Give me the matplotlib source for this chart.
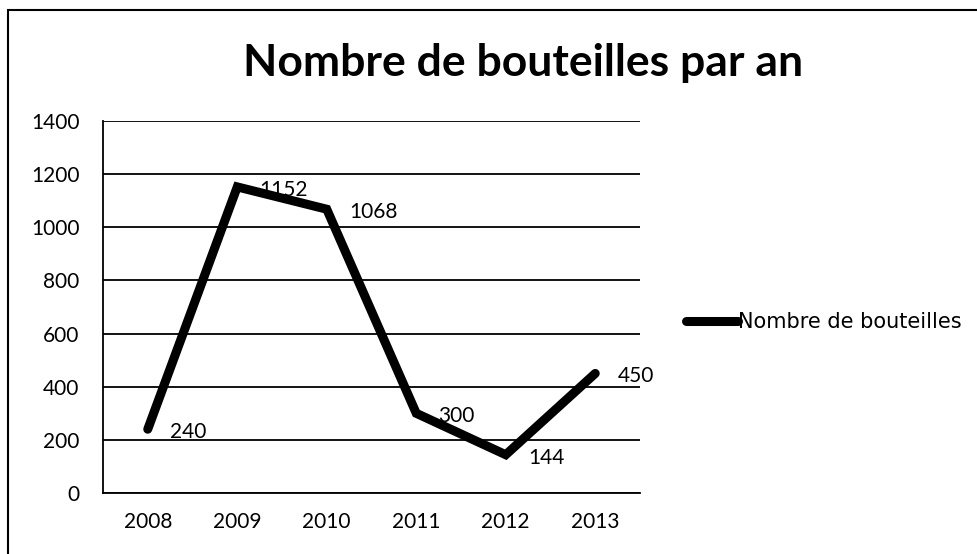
import matplotlib
matplotlib.use('Agg')
import matplotlib.pyplot as plt
from matplotlib.patches import Rectangle

# Données
annees = ['2008', '2009', '2010', '2011', '2012', '2013']
bouteilles = [240, 1152, 1068, 300, 144, 450]
graduations = [0, 200, 400, 600, 800, 1000, 1200, 1400]

plt.rcParams['font.family'] = ['Lato', 'DejaVu Sans']

fig = plt.figure(figsize=(9.77, 5.54), dpi=100)
ax = fig.add_axes([103 / 977, 1 - 493 / 554, (640 - 103) / 977, (493 - 121) / 554])

x = range(len(annees))
ax.plot(x, bouteilles, color='black', linewidth=6.5, solid_capstyle='round',
        solid_joinstyle='miter', label='Nombre de bouteilles', zorder=3)

for i, v in enumerate(bouteilles):
    ax.annotate(str(v), (i, v), xytext=(16, -2), textcoords='offset points',
                fontsize=15, va='center', ha='left', color='black')

ax.set_xlim(-0.5, len(annees) - 0.5)
ax.set_ylim(0, 1400)
ax.set_yticks(graduations)
ax.set_xticks(list(x))
ax.set_xticklabels(annees)
ax.tick_params(axis='both', length=0, labelsize=15, colors='black')
ax.tick_params(axis='y', pad=17)
ax.tick_params(axis='x', pad=14)
ax.grid(axis='y', color='black', linewidth=1.3)
ax.set_axisbelow(True)
for s in ['top', 'right']:
    ax.spines[s].set_visible(False)
for s in ['left', 'bottom']:
    ax.spines[s].set_linewidth(1.3)

fig.text(523 / 977, 1 - 63 / 554, 'Nombre de bouteilles par an', ha='center', va='center',
         fontsize=32, fontweight='bold')

leg = ax.legend(loc='center left', bbox_to_anchor=(1.05, 0.46), frameon=False,
                prop={'family': 'DejaVu Sans', 'size': 15},
                handlelength=2.5, handletextpad=0.0)

# Cadre du graphique
fig.patches.append(Rectangle((8 / 977, -0.05), 1.2, 1 - 10 / 554 + 0.05, transform=fig.transFigure,
                             fill=False, edgecolor='black', linewidth=1.5))

fig.savefig('out.png', dpi=100)
